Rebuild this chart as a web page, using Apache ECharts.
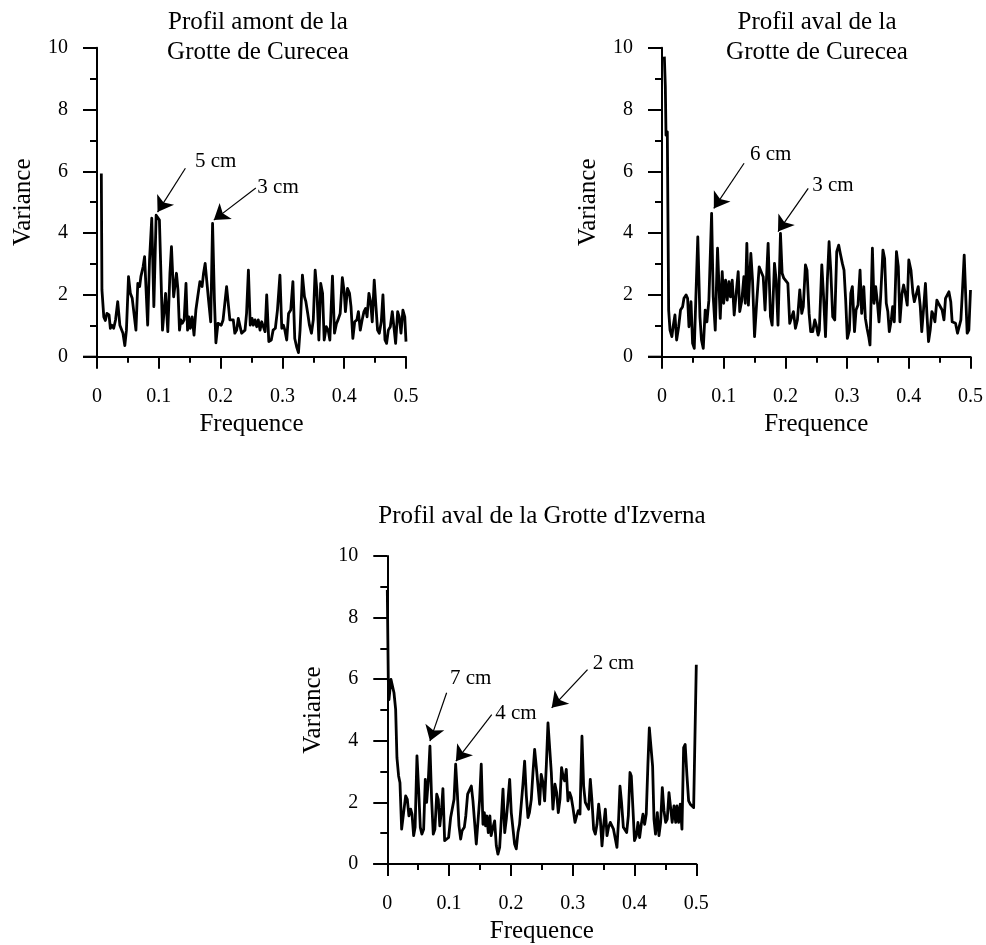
<!DOCTYPE html>
<html>
<head>
<meta charset="utf-8">
<script src="https://cdn.jsdelivr.net/npm/echarts@6.0.0/dist/echarts.min.js"></script>
<style>
html,body{margin:0;padding:0;background:#fff;}
#c{width:986px;height:945px;}
</style>
</head>
<body>
<div id="c"></div>
<script>
// ---------- data ----------
var freqA = [0.007,0.008,0.011,0.0135,0.016,0.0195,0.0216,0.024,0.027,0.030,
0.0335,0.037,0.040,0.042,0.045,0.0476,0.051,0.054,0.057,0.0595,
0.063,0.066,0.069,0.071,0.0746,0.077,0.0795,0.082,0.085,0.0886,
0.092,0.0957,0.098,0.101,0.106,0.108,0.111,0.1146,0.118,0.1205,
0.124,0.1265,0.1286,0.131,0.1335,0.1357,0.138,0.141,0.144,0.1465,
0.1486,0.151,0.154,0.157,0.160,0.163,0.1665,0.170,0.1724,0.175,
0.178,0.1805,0.184,0.187,0.190,0.1924,0.1957,0.198,0.201,0.204,
0.2065,0.2097,0.212,0.215,0.218,0.2205,0.223,0.226,0.2286,0.2313,
0.234,0.237,0.2395,0.242,0.245,0.248,0.251,0.253,0.2557,0.2584,
0.261,0.2638,0.2665,0.269,0.272,0.2746,0.278,0.282,0.285,0.2886,
0.292,0.296,0.299,0.3016,0.304,0.307,0.31,0.3135,0.317,0.320,
0.323,0.326,0.3286,0.3324,0.3357,0.338,0.341,0.3438,0.347,0.35,
0.353,0.3557,0.359,0.362,0.365,0.3676,0.371,0.374,0.3768,0.381,
0.3843,0.3876,0.390,0.3935,0.397,0.400,0.402,0.4054,0.4086,0.411,
0.414,0.417,0.4205,0.423,0.426,0.429,0.432,0.4346,0.437,0.440,
0.4427,0.4454,0.4486,0.4514,0.454,0.4568,0.46,0.4627,0.466,0.4686,
0.4714,0.4746,0.4778,0.481,0.4832,0.4865,0.489,0.4919,0.495,0.498,
0.5];
var varA = [5.93,2.16,1.29,1.17,1.4,1.35,0.92,1.02,0.92,1.19,
1.78,1.02,0.97,0.76,0.36,0.86,2.59,2.05,1.89,1.83,
0.86,2.37,2.27,2.59,2.91,3.24,3.29,1.02,3.13,4.48,
1.62,4.58,4.53,4.42,0.86,0.92,2.05,0.81,2.70,3.56,
1.94,1.94,2.70,2.16,0.86,1.19,1.08,1.19,2.37,0.86,
1.29,0.92,1.29,0.70,1.51,1.94,2.43,2.27,2.70,3.02,
2.37,1.83,1.13,4.31,1.83,0.45,1.08,1.02,1.02,1.19,
1.13,2.27,2.21,1.19,1.13,1.19,0.76,0.86,1.24,1.19,
0.76,0.70,0.86,1.40,2.80,1.02,1.24,1.02,1.19,0.97,
1.19,0.86,1.13,1.08,0.81,2.00,0.49,0.54,0.86,0.92,
1.51,2.64,0.92,1.02,0.86,0.54,1.40,1.51,2.43,0.59,
0.32,0.13,0.86,2.64,1.94,1.78,1.40,1.02,0.76,1.19,
2.80,2.16,0.54,2.37,2.05,0.54,0.97,0.86,0.54,2.61,
0.76,1.08,1.19,1.40,2.56,2.10,1.46,2.21,2.05,1.62,
0.59,1.13,1.19,1.46,0.86,1.19,1.46,1.56,1.29,2.05,
1.78,1.13,2.48,1.62,0.86,0.76,1.13,2.00,0.54,0.43,
0.86,0.97,1.46,0.86,0.43,1.46,1.29,0.76,1.51,1.29,
0.49];

var freqB = [0.0038,0.0054,0.0065,0.0086,0.0108,0.013,0.016,0.018,0.021,0.0237,
0.027,0.030,0.0334,0.0356,0.039,0.0415,0.0437,0.047,0.0496,0.0523,
0.055,0.058,0.0615,0.064,0.0669,0.070,0.0728,0.076,0.0804,0.083,
0.0863,0.090,0.0944,0.0976,0.100,0.103,0.1057,0.1084,0.111,0.1138,
0.117,0.1197,0.1235,0.126,0.1294,0.1327,0.135,0.1375,0.140,0.144,
0.1467,0.150,0.1537,0.1575,0.1607,0.164,0.167,0.172,0.1758,0.1785,
0.1823,0.185,0.188,0.192,0.1947,0.1974,0.2006,0.204,0.207,0.210,
0.213,0.2163,0.2195,0.2233,0.2265,0.229,0.2325,0.235,0.2384,0.241,
0.2443,0.2476,0.250,0.253,0.255,0.259,0.2616,0.265,0.268,0.2708,
0.2735,0.2767,0.280,0.2832,0.2864,0.289,0.2923,0.295,0.2977,0.3004,
0.3037,0.306,0.3085,0.312,0.3145,0.3177,0.321,0.3236,0.327,0.3296,
0.3323,0.335,0.3371,0.341,0.3436,0.3463,0.349,0.3517,0.3544,0.3581,
0.3608,0.3635,0.366,0.3684,0.3716,0.3738,0.3765,0.380,0.383,0.3856,
0.389,0.3916,0.3943,0.3975,0.400,0.4035,0.4067,0.409,0.412,0.4153,
0.4186,0.421,0.424,0.427,0.4293,0.432,0.4347,0.4374,0.440,0.4423,
0.4455,0.448,0.451,0.454,0.457,0.4595,0.4622,0.465,0.468,0.4703,
0.473,0.4757,0.479,0.4817,0.4844,0.487,0.4898,0.4925,0.4946,0.4973,
0.5];
var varB = [9.71,8.74,7.17,7.28,1.51,0.86,0.65,0.97,1.35,0.54,
0.97,1.51,1.62,1.89,2.00,1.89,0.97,1.78,0.43,0.27,
0.27,3.88,1.29,0.54,0.27,1.51,1.13,1.83,4.64,1.94,
0.86,3.51,1.24,2.75,1.73,2.48,1.83,2.43,1.94,2.48,
1.35,1.29,2.75,1.46,1.83,2.59,1.73,3.67,1.67,3.34,
2.48,0.65,1.83,2.91,2.75,2.59,1.51,3.67,1.29,1.02,
3.02,2.48,1.02,3.99,2.70,2.54,2.54,2.37,1.08,1.08,
1.46,0.92,1.19,2.16,1.40,1.62,2.97,2.80,1.40,0.81,
0.81,1.19,1.02,0.70,0.86,2.97,2.05,0.65,2.48,3.72,
2.80,1.29,1.19,3.40,3.61,3.34,3.02,2.80,1.83,0.59,
0.86,2.05,2.27,0.81,1.51,1.67,2.80,1.40,2.27,1.24,
0.92,0.65,0.38,3.51,1.73,2.27,1.78,1.13,1.94,3.45,
3.18,1.73,1.46,0.81,1.19,1.62,1.13,3.40,2.91,1.13,
2.05,2.32,2.05,1.67,3.13,2.80,2.05,1.78,1.73,2.27,
1.62,0.81,1.56,2.37,1.40,0.49,0.86,1.46,1.35,1.13,
1.83,1.73,1.78,1.51,1.19,1.89,1.94,2.10,1.78,1.13,
1.19,1.08,0.76,0.81,1.19,2.16,3.29,1.83,0.76,0.86,
2.16];

var freqC = [0,0.0016,0.0027,0.0043,0.006,0.008,0.0108,0.0135,0.0156,0.0183,
0.0205,0.0232,0.0264,0.0297,0.0324,0.035,0.0378,0.040,0.0426,0.045,
0.048,0.0507,0.0534,0.056,0.0588,0.0615,0.0636,0.0663,0.069,0.0717,
0.0744,0.077,0.080,0.0825,0.085,0.088,0.090,0.0928,0.096,0.0992,
0.1025,0.105,0.108,0.1106,0.1133,0.116,0.1187,0.121,0.1246,0.127,
0.130,0.1327,0.136,0.1386,0.1413,0.144,0.1467,0.1494,0.152,0.1548,
0.157,0.159,0.161,0.1634,0.166,0.168,0.171,0.1737,0.1764,0.179,
0.1818,0.1845,0.1872,0.190,0.1926,0.195,0.198,0.2006,0.2033,0.206,
0.2087,0.2114,0.214,0.2168,0.2195,0.2222,0.225,0.2276,0.230,0.233,
0.2357,0.2384,0.241,0.2438,0.2465,0.249,0.252,0.2546,0.2573,0.260,
0.2627,0.2654,0.268,0.2713,0.274,0.2767,0.2794,0.282,0.2848,0.287,
0.2896,0.2923,0.295,0.2977,0.3004,0.3037,0.3064,0.309,0.3118,0.315,
0.3177,0.3204,0.323,0.3258,0.3285,0.331,0.3339,0.3366,0.3393,0.342,
0.3447,0.3474,0.350,0.3528,0.3555,0.358,0.3608,0.3635,0.366,0.369,
0.3716,0.3743,0.3765,0.379,0.382,0.3846,0.3873,0.390,0.3927,0.3948,
0.3975,0.400,0.403,0.4056,0.4083,0.411,0.4137,0.4164,0.419,0.4218,
0.424,0.4266,0.4293,0.4315,0.434,0.4369,0.4396,0.4423,0.445,0.4477,
0.4504,0.453,0.4558,0.4585,0.461,0.4639,0.4666,0.4687,0.4714,0.474,
0.4768,0.4795,0.482,0.4849,0.4876,0.4903,0.493,0.4957,0.4984,0.5];
var varC = [8.90,5.99,5.34,5.66,5.99,5.99,5.56,5.02,3.45,2.86,
2.64,1.13,1.67,2.21,2.10,1.56,1.78,1.62,0.92,1.19,
3.51,2.43,1.19,0.97,1.13,2.75,2.00,2.70,3.83,2.10,
0.97,1.13,2.27,2.10,1.24,1.83,2.45,0.76,0.81,0.86,
1.51,1.56,2.10,3.24,2.32,1.24,0.81,1.08,1.19,1.56,
2.27,2.32,2.53,2.05,1.35,0.65,0.70,2.10,3.24,1.29,
1.67,1.24,1.56,1.02,1.56,0.92,1.19,1.40,0.59,0.32,
0.54,1.46,2.43,1.02,1.46,2.00,2.75,1.67,1.67,0.65,
0.49,1.02,1.29,1.35,2.59,3.34,2.21,1.51,1.67,2.10,
2.97,3.72,3.18,3.18,1.94,2.91,2.64,2.05,3.18,4.58,
4.64,2.97,1.78,2.59,2.32,1.67,2.10,3.13,2.80,2.70,
3.07,2.05,2.32,2.16,1.83,1.35,1.56,1.73,1.62,4.15,
2.53,2.00,2.00,1.78,2.75,2.10,1.13,0.97,1.29,1.94,
1.46,0.59,1.24,1.78,0.92,1.19,1.35,1.35,1.13,0.81,
0.54,1.46,2.53,2.00,1.19,1.19,1.02,1.56,2.97,2.86,
1.78,0.76,0.92,1.35,0.86,1.29,1.62,1.29,1.62,3.29,
4.42,4.42,3.18,1.46,0.97,1.67,0.92,1.35,2.48,1.73,
1.35,1.46,2.32,2.37,1.35,1.89,1.35,1.89,1.35,1.94,
1.13,3.78,3.88,2.86,2.05,1.94,2.00,1.83,1.78,6.47];

var xTicks = [0, 0.1, 0.2, 0.3, 0.4, 0.5];
var yTicks = [0, 2, 4, 6, 8, 10];

var titles = ['Profil amont de la\nGrotte de Curecea', 'Profil aval de la\nGrotte de Curecea', "Profil aval de la Grotte d'Izverna"];
var xName = 'Frequence';
var yName = 'Variance';

// annotations: label, text position [f, v], arrow start [f, v], arrow tip [f, v]
var annA = [['5 cm', [0.192, 6.33], [0.143, 6.10], [0.098, 4.68]],
            ['3 cm', [0.293, 5.48], [0.257, 5.46], [0.189, 4.42]]];
var annB = [['6 cm', [0.176, 6.56], [0.133, 6.26], [0.084, 4.80]],
            ['3 cm', [0.277, 5.53], [0.237, 5.45], [0.188, 4.05]]];
var annC = [['7 cm', [0.135, 6.01], [0.096, 5.56], [0.069, 3.99]],
            ['4 cm', [0.208, 4.88], [0.169, 4.85], [0.111, 3.34]],
            ['2 cm', [0.366, 6.50], [0.324, 6.31], [0.266, 5.07]]];

// ---------- chart ----------
var FONT = 'Liberation Serif, Times New Roman, serif';
function pairs(xs, ys) { var o = []; for (var i = 0; i < Math.min(xs.length, ys.length); i++) o.push([xs[i], ys[i]]); return o; }

function xAxisFor(gi) {
  return {
    type: 'value', gridIndex: gi, min: xTicks[0], max: xTicks[xTicks.length - 1], interval: 0.1,
    axisLine: { onZero: false, lineStyle: { color: '#000', width: 2 } },
    axisTick: { length: 12, lineStyle: { color: '#000', width: 2 } },
    minorTick: { show: true, splitNumber: 2, length: 6, lineStyle: { color: '#000', width: 2 } },
    splitLine: { show: false }, minorSplitLine: { show: false },
    axisLabel: { margin: 30, fontSize: 20, fontFamily: FONT, color: '#000',
      formatter: function (v) { return String(Math.round(v * 10) / 10); } },
    name: xName, nameLocation: 'middle', nameGap: 55,
    nameTextStyle: { fontSize: 25, fontFamily: FONT, color: '#000' }
  };
}
function yAxisFor(gi) {
  return {
    type: 'value', gridIndex: gi, min: yTicks[0], max: yTicks[yTicks.length - 1], interval: 2,
    axisLine: { show: true, lineStyle: { color: '#000', width: 2 } },
    axisTick: { show: true, length: 14, lineStyle: { color: '#000', width: 2 } },
    minorTick: { show: true, splitNumber: 2, length: 7, lineStyle: { color: '#000', width: 2 } },
    splitLine: { show: false }, minorSplitLine: { show: false },
    axisLabel: { margin: 29, fontSize: 20, fontFamily: FONT, color: '#000' },
    name: yName, nameLocation: 'middle', nameGap: 61,
    nameTextStyle: { fontSize: 25, fontFamily: FONT, color: '#000' }
  };
}
function seriesFor(gi, xs, ys, ann) {
  return {
    type: 'line', xAxisIndex: gi, yAxisIndex: gi, data: pairs(xs, ys),
    showSymbol: false, symbol: 'none', silent: true,
    lineStyle: { color: '#000', width: 2.8, join: 'round' },
    markLine: {
      silent: true, symbol: ['none', 'arrow'], symbolSize: 15, animation: false,
      label: { show: false },
      itemStyle: { color: '#000' },
      lineStyle: { color: '#000', width: 1.2, type: 'solid' },
      data: ann.map(function (a) { return [{ coord: a[2] }, { coord: a[3] }]; })
    },
    markPoint: {
      silent: true, symbol: 'circle', symbolSize: 1, animation: false,
      itemStyle: { color: 'rgba(0,0,0,0)' },
      label: { show: true, position: 'inside', formatter: '{b}', color: '#000', fontSize: 21, fontFamily: FONT },
      data: ann.map(function (a) { return { name: a[0], coord: a[1] }; })
    }
  };
}

var grids = [
  { left: 97, top: 47.7, width: 309, height: 309 },
  { left: 662, top: 47.7, width: 309, height: 309 },
  { left: 387.3, top: 556, width: 309, height: 309 }
];

var titleStyle = { fontSize: 25, lineHeight: 30, fontWeight: 'normal', fontFamily: FONT, color: '#000' };
var option = {
  animation: false,
  backgroundColor: '#fff',
  title: [
    { text: titles[0], left: 258, top: 7, textAlign: 'center', padding: 0, textStyle: titleStyle },
    { text: titles[1], left: 817, top: 7, textAlign: 'center', padding: 0, textStyle: titleStyle },
    { text: titles[2], left: 542, top: 501, textAlign: 'center', padding: 0, textStyle: titleStyle }
  ],
  grid: grids,
  xAxis: [xAxisFor(0), xAxisFor(1), xAxisFor(2)],
  yAxis: [yAxisFor(0), yAxisFor(1), yAxisFor(2)],
  series: [seriesFor(0, freqA, varA, annA), seriesFor(1, freqB, varB, annB), seriesFor(2, freqC, varC, annC)]
};

var chart = echarts.init(document.getElementById('c'), null, { renderer: 'canvas' });
chart.setOption(option);

// extend each x axis line a little to the left of the y axis (as in the original)
var ext = [];
for (var g = 0; g < 3; g++) {
  var p = chart.convertToPixel({ gridIndex: g }, [0, 0]);
  ext.push({ type: 'line', silent: true, shape: { x1: p[0] - 14, y1: p[1], x2: p[0], y2: p[1] },
    style: { stroke: '#000', lineWidth: 2 } });
}
chart.setOption({ graphic: ext });
</script>
</body>
</html>
